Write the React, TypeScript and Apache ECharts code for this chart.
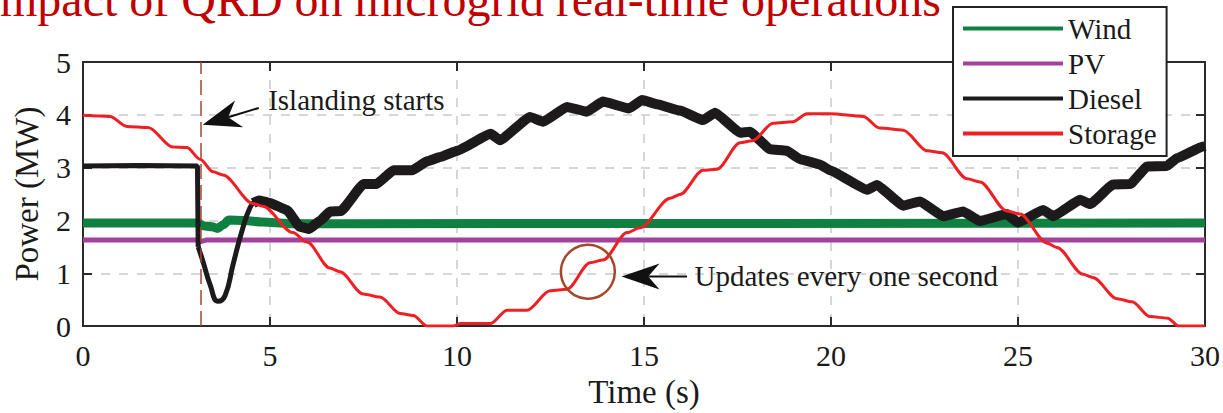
import React, { useEffect, useRef } from "react";
import * as echarts from "echarts";

const WIDTH = 1223;
const HEIGHT = 413;
const SERIF = '"Liberation Serif", "Times New Roman", serif';

const titleText = "Impact of QRD on microgrid real-time operations";
const seriesNames = ["Wind", "PV", "Diesel", "Storage"];

// [time (s), power (MW)]
const windData = [
  [0, 1.95], [3.1, 1.95], [3.2, 1.9], [3.45, 1.88], [3.6, 1.85], [3.75, 1.92],
  [3.9, 2.01], [4.3, 2.0], [4.8, 1.97], [5.5, 1.94], [6.5, 1.94], [30, 1.95],
];

const pvData = [
  [0, 1.63], [3.1, 1.63], [3.15, 1.6], [3.3, 1.63], [30, 1.63],
];

// Diesel: grid-connected level and the step at islanding
const dieselGridTied = [
  [0, 3.03], [1.5, 3.04], [3.06, 3.03], [3.08, 1.5],
];

// Diesel: transient swing right after islanding
const dieselTransient = [
  [3.08, 1.5], [3.21, 1.22], [3.4, 0.78], [3.61, 0.47], [3.8, 0.58], [4.01, 1.16],
  [4.25, 1.8], [4.47, 2.25], [4.62, 2.37],
];

// Diesel: one-second dispatch updates after the transient
const dieselDispatch = [
  [4.55, 2.33], [4.7, 2.38], [5.0, 2.33], [5.45, 2.2], [5.8, 1.88], [6.05, 1.84],
  [6.35, 2.0], [6.6, 2.17], [6.9, 2.18], [7.5, 2.69], [7.85, 2.69], [8.3, 2.95],
  [8.8, 2.95], [9.2, 3.12], [9.55, 3.2], [10.0, 3.32], [10.9, 3.64], [11.15, 3.52],
  [11.95, 3.96], [12.3, 3.87], [12.94, 4.15], [13.47, 4.06], [13.9, 4.25], [14.6, 4.12],
  [14.95, 4.28], [15.35, 4.2], [15.96, 4.08], [16.58, 3.9], [16.9, 4.04], [17.57, 3.66],
  [17.83, 3.68], [18.37, 3.35], [18.82, 3.32], [19.17, 3.16], [19.7, 3.06], [19.97, 2.95],
  [20.96, 2.58], [21.23, 2.67], [21.93, 2.28], [22.38, 2.36], [23.0, 2.08], [23.53, 2.17],
  [23.98, 1.99], [24.7, 2.12], [25.0, 1.96], [25.67, 2.2], [25.94, 2.08], [26.66, 2.39],
  [26.93, 2.31], [27.54, 2.68], [28.0, 2.69], [28.45, 3.02], [28.98, 3.03], [29.25, 3.18],
  [29.95, 3.4], [30, 3.41],
];

const storageData = [
  [0, 3.99], [0.72, 3.97], [1.17, 3.78], [1.74, 3.76], [2.4, 3.39], [2.78, 3.38],
  [3.13, 3.16], [3.48, 2.92], [3.74, 2.86], [4.55, 2.32], [4.81, 2.27], [5.61, 1.77],
  [5.99, 1.59], [6.6, 1.1], [6.87, 1.03], [7.49, 0.61], [7.94, 0.55], [8.48, 0.24],
  [8.83, 0.2], [9.2, 0.0], [9.9, 0.0], [10.1, 0.05], [10.9, 0.05], [11.34, 0.3],
  [11.87, 0.3], [12.49, 0.67], [12.94, 0.7], [13.56, 1.2], [13.9, 1.25], [14.55, 1.77],
  [14.89, 1.86], [15.7, 2.42], [15.96, 2.49], [16.58, 2.95], [16.95, 2.97], [17.57, 3.47],
  [17.9, 3.51], [18.45, 3.84], [18.98, 3.87], [19.36, 4.02], [19.97, 4.02], [20.86, 3.97],
  [21.3, 3.75], [21.93, 3.71], [22.57, 3.32], [22.97, 3.28], [23.64, 2.79], [23.98, 2.73],
  [24.7, 2.18], [25.05, 2.12], [25.78, 1.57], [26.04, 1.49], [26.74, 0.98], [27.0, 0.92],
  [27.65, 0.52], [28.05, 0.46], [28.53, 0.18], [29.0, 0.15], [29.3, 0.0], [30, 0.0],
];

// Annotation anchors in data space [time, power]
const islandingTime = 3.15;
const islandingArrowTip = [3.2, 3.81];
const islandingArrowTail = [4.7, 4.13];
const islandingLabelAt = [4.95, 4.28];
const islandingLabel = "Islanding starts";
const updateCircleAt = [13.5, 1.03];
const updateArrowTip = [14.4, 0.94];
const updateArrowTail = [16.15, 0.94];
const updateLabelAt = [16.35, 0.94];
const updateLabel = "Updates every one second";

const COLORS = {
  wind: "#108040",
  pv: "#a3419f",
  diesel: "#1c1a1a",
  storage: "#ee2024",
  accent: "#a5472b",
  frame: "#2a2a2a",
  grid: "#d6d6d6",
  text: "#1a1a1a",
  title: "#c00000",
};

const frameLine = { show: true, onZero: false, lineStyle: { color: COLORS.frame, width: 2 } };
const frameTick = { show: true, inside: true, length: 9, lineStyle: { color: COLORS.frame, width: 2 } };
const gridLine = { show: true, lineStyle: { color: COLORS.grid, width: 2, type: [9, 9] } };

function arrowHead(tip: number[], tail: number[], len: number, half: number) {
  const dx = tail[0] - tip[0];
  const dy = tail[1] - tip[1];
  const d = Math.hypot(dx, dy) || 1;
  const ux = dx / d;
  const uy = dy / d;
  const nx = -uy;
  const ny = ux;
  return [
    [tip[0], tip[1]],
    [tip[0] + ux * len + nx * half, tip[1] + uy * len + ny * half],
    [tip[0] + ux * len * 0.7, tip[1] + uy * len * 0.7],
    [tip[0] + ux * len - nx * half, tip[1] + uy * len - ny * half],
  ];
}

export default function App() {
  const ref = useRef<HTMLDivElement>(null);

  useEffect(() => {
    if (!ref.current) return;
    const chart = echarts.init(ref.current, null, { renderer: "svg" });

    const lineSeries = (
      name: string,
      data: number[][],
      color: string,
      width: number,
      smooth: number,
      z: number,
      monotone = true
    ) => ({
      name,
      type: "line",
      data,
      symbol: "none",
      showSymbol: false,
      smooth,
      smoothMonotone: monotone ? "x" : undefined,
      z,
      itemStyle: { color },
      lineStyle: { color, width },
      emphasis: { disabled: true },
    });

    const option: any = {
      animation: false,
      backgroundColor: "#ffffff",
      grid: { left: 83, right: 18, top: 62, bottom: 80 },
      legend: {
        data: seriesNames,
        orient: "vertical",
        left: 953,
        top: 7,
        padding: [7, 10, 8, 10],
        icon: "rect",
        itemWidth: 100,
        itemHeight: 4,
        itemGap: 6,
        backgroundColor: "#ffffff",
        borderColor: "#222222",
        borderWidth: 2,
        borderRadius: 0,
        textStyle: { fontFamily: SERIF, fontSize: 29, color: COLORS.text },
        selectedMode: false,
        z: 20,
      },
      xAxis: [
        {
          type: "value",
          min: 0,
          max: 30,
          interval: 5,
          position: "bottom",
          axisLine: frameLine,
          axisTick: frameTick,
          splitLine: gridLine,
          axisLabel: { fontFamily: SERIF, fontSize: 30, color: COLORS.text, margin: 14 },
          name: "Time (s)",
          nameLocation: "middle",
          nameGap: 44,
          nameTextStyle: { fontFamily: SERIF, fontSize: 33, color: COLORS.text },
        },
        {
          type: "value",
          min: 0,
          max: 30,
          interval: 5,
          position: "top",
          axisLine: frameLine,
          axisTick: frameTick,
          splitLine: { show: false },
          axisLabel: { show: false },
        },
      ],
      yAxis: [
        {
          type: "value",
          min: 0,
          max: 5,
          interval: 1,
          position: "left",
          axisLine: frameLine,
          axisTick: frameTick,
          splitLine: gridLine,
          axisLabel: { fontFamily: SERIF, fontSize: 30, color: COLORS.text, margin: 12 },
          name: "Power (MW)",
          nameLocation: "middle",
          nameGap: 40,
          nameTextStyle: { fontFamily: SERIF, fontSize: 33, color: COLORS.text },
        },
        {
          type: "value",
          min: 0,
          max: 5,
          interval: 1,
          position: "right",
          axisLine: frameLine,
          axisTick: frameTick,
          splitLine: { show: false },
          axisLabel: { show: false },
        },
      ],
      series: [
        lineSeries("Wind", windData, COLORS.wind, 9, 0.3, 2),
        lineSeries("PV", pvData, COLORS.pv, 5, 0.3, 3),
        lineSeries("Diesel", dieselGridTied, COLORS.diesel, 5, 0, 4),
        lineSeries("Diesel", dieselTransient, COLORS.diesel, 5, 0.5, 4, false),
        lineSeries("Diesel", dieselDispatch, COLORS.diesel, 10, 0.1, 4),
        {
          ...lineSeries("Storage", storageData, COLORS.storage, 3, 0.3, 5),
          markLine: {
            symbol: "none",
            silent: true,
            label: { show: false },
            lineStyle: { color: COLORS.accent, width: 1.5, type: [15, 6] },
            data: [{ xAxis: islandingTime }],
          },
        },
      ],
    };

    chart.setOption(option);

    const px = (p: number[]) => chart.convertToPixel({ gridIndex: 0 }, p) as number[];

    const iTip = px(islandingArrowTip);
    const iTail = px(islandingArrowTail);
    const iLabel = px(islandingLabelAt);
    const uTip = px(updateArrowTip);
    const uTail = px(updateArrowTail);
    const uLabel = px(updateLabelAt);
    const uCircle = px(updateCircleAt);
    const iHead = arrowHead(iTip, iTail, 38, 14);
    const uHead = arrowHead(uTip, uTail, 38, 13);

    chart.setOption({
      graphic: [
        {
          type: "text",
          x: -16,
          y: -1,
          z: 30,
          style: {
            text: titleText,
            font: `48px ${SERIF}`,
            fill: COLORS.title,
            textVerticalAlign: "middle",
          },
        },
        {
          type: "line",
          z: 30,
          shape: { x1: iHead[2][0], y1: iHead[2][1], x2: iTail[0], y2: iTail[1] },
          style: { stroke: "#111111", lineWidth: 2 },
        },
        {
          type: "polygon",
          z: 30,
          shape: { points: iHead },
          style: { fill: "#111111" },
        },
        {
          type: "text",
          x: iLabel[0],
          y: iLabel[1],
          z: 30,
          style: {
            text: islandingLabel,
            font: `29px ${SERIF}`,
            fill: COLORS.text,
            textVerticalAlign: "middle",
          },
        },
        {
          type: "circle",
          z: 30,
          shape: { cx: uCircle[0], cy: uCircle[1], r: 27 },
          style: { fill: "none", stroke: COLORS.accent, lineWidth: 2.5 },
        },
        {
          type: "line",
          z: 30,
          shape: { x1: uHead[2][0], y1: uHead[2][1], x2: uTail[0], y2: uTail[1] },
          style: { stroke: "#111111", lineWidth: 2 },
        },
        {
          type: "polygon",
          z: 30,
          shape: { points: uHead },
          style: { fill: "#111111" },
        },
        {
          type: "text",
          x: uLabel[0],
          y: uLabel[1],
          z: 30,
          style: {
            text: updateLabel,
            font: `29px ${SERIF}`,
            fill: COLORS.text,
            textVerticalAlign: "middle",
          },
        },
      ],
    });

    return () => chart.dispose();
  }, []);

  return (
    <div
      ref={ref}
      style={{ position: "absolute", left: 0, top: 0, width: WIDTH, height: HEIGHT, background: "#ffffff" }}
    />
  );
}
